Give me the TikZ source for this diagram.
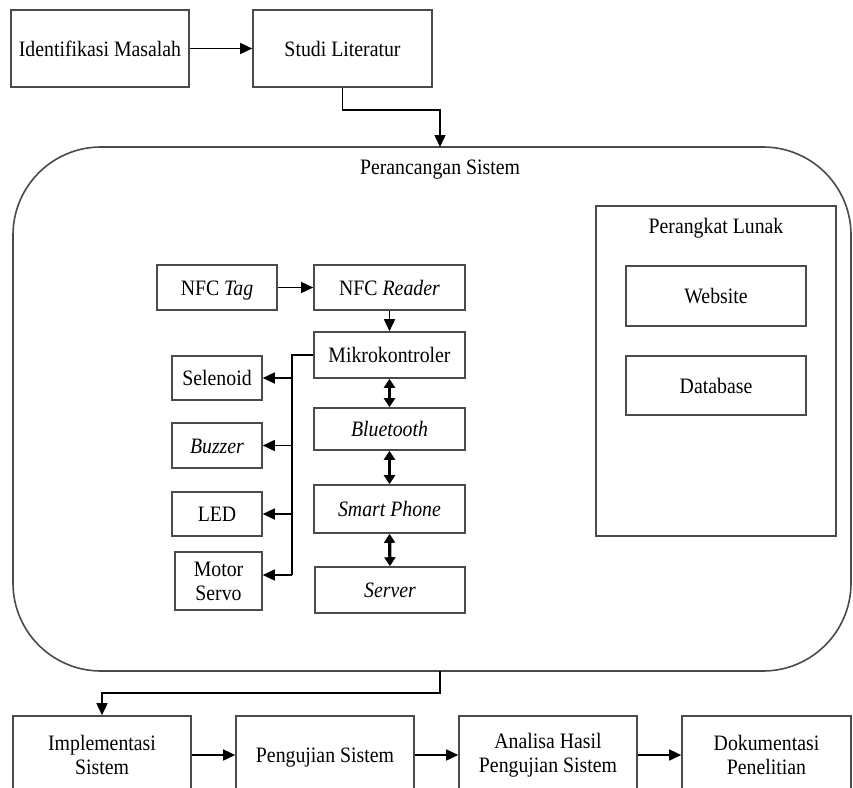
\documentclass[tikz,border=0pt]{standalone}
\usepackage{fontspec}
\setmainfont{Liberation Serif}[FakeStretch=0.9]
\usetikzlibrary{arrows.meta,calc}
\definecolor{boxgray}{HTML}{4A4A4A}
\tikzset{
  box/.style={draw=boxgray, line width=1.6pt, rectangle, align=center, inner sep=0pt,
    font=\fontsize{22}{24}\selectfont},
  one/.style={text height=15pt, text depth=0pt},
  arr/.style={black, line width=1.5pt, -{Triangle[length=12pt,width=11pt]}},
  dbl/.style={black, line width=3.2pt, {Triangle[length=9pt,width=11pt]}-{Triangle[length=9pt,width=11pt]}},
  plain/.style={black, line width=1.5pt},
  lbl/.style={font=\fontsize{22}{24}\selectfont, inner sep=0pt, text height=15pt, text depth=0pt}
}
\begin{document}
\begin{tikzpicture}[x=1pt,y=-1pt]
\clip (0,0) rectangle (853,787);
\fill[white] (0,0) rectangle (853,787);
% top row
\node[box, one, minimum width=178pt, minimum height=77pt] (idm) at (100,48.5) {Identifikasi Masalah};
\node[box, one, minimum width=179pt, minimum height=77pt] (stl) at (342.5,48.5) {Studi Literatur};
% big rounded frame
\draw[boxgray, line width=1.6pt, rounded corners=88pt] (13,147) rectangle (851,671);
\coordinate (ftop) at (440,147);
\coordinate (fbot) at (440,671);
\node[lbl] (ptitle) at (440,167) {Perancangan Sistem};
% software box
\node[box, minimum width=240pt, minimum height=330pt] (pl) at (716,371) {};
\node[lbl] (pltitle) at (716,226) {Perangkat Lunak};
\node[box, one, minimum width=180pt, minimum height=60pt] (web) at (716,296) {Website};
\node[box, one, minimum width=180pt, minimum height=59pt] (db) at (716,385.5) {Database};
% hardware
\node[box, one, minimum width=120pt, minimum height=45pt] (tag) at (217,287.5) {NFC \textit{Tag}};
\node[box, one, minimum width=151pt, minimum height=45pt] (rdr) at (389.5,287.5) {NFC \textit{Reader}};
\node[box, one, minimum width=151pt, minimum height=46pt] (mcu) at (389.5,355) {Mikrokontroler};
\node[box, one, minimum width=151pt, minimum height=42pt] (bt) at (389.5,429) {\textit{Bluetooth}};
\node[box, one, minimum width=151pt, minimum height=48pt] (sp) at (389.5,509) {\textit{Smart Phone}};
\node[box, one, minimum width=150pt, minimum height=46pt] (srv) at (390,590) {\textit{Server}};
\node[box, one, minimum width=90pt, minimum height=44pt] (sel) at (217,378) {Selenoid};
\node[box, one, minimum width=90pt, minimum height=45pt] (buz) at (217,445.5) {\textit{Buzzer}};
\node[box, one, minimum width=90pt, minimum height=44pt] (led) at (217,514) {LED};
\node[box, minimum width=87pt, minimum height=58pt] (mot) at (218.5,581) {Motor\\Servo};
% bottom row
\node[box, minimum width=178pt, minimum height=78pt] (imp) at (102,755) {Implementasi\\Sistem};
\node[box, one, minimum width=178pt, minimum height=78pt] (uji) at (325,755) {Pengujian Sistem};
\node[box, minimum width=178pt, minimum height=78pt] (ana) at (548,755) {Analisa Hasil\\Pengujian Sistem};
\node[box, minimum width=169pt, minimum height=78pt] (dok) at (766.5,755) {Dokumentasi\\Penelitian};
% connectors top
\draw[arr] (idm.east) -- (stl.west);
\draw[arr] (stl.south) -- ++(0,22) -| (ftop);
% hardware connectors
\draw[arr] (tag.east) -- (rdr.west);
\draw[arr] (rdr.south) -- (mcu.north);
\draw[dbl] (mcu.south) -- (bt.north);
\draw[dbl] (bt.south) -- (sp.north);
\draw[dbl] (sp.south) -- (srv.north);
\coordinate (bus0) at (292,355);
\coordinate (bus4) at (292,575);
\draw[plain, line width=2pt] (mcu.west) -- (bus0) -- (bus4);
\draw[arr] (bus0 |- sel.east) -- (sel.east);
\draw[arr] (bus0 |- buz.east) -- (buz.east);
\draw[arr] (bus0 |- led.east) -- (led.east);
\draw[arr] (bus4) -- (bus4 -| mot.east);
% bottom connectors
\draw[arr] (fbot) -- ++(0,22) -| (imp.north);
\draw[arr] (imp.east) -- (uji.west);
\draw[arr] (uji.east) -- (ana.west);
\draw[arr] (ana.east) -- (dok.west);
\end{tikzpicture}
\end{document}
